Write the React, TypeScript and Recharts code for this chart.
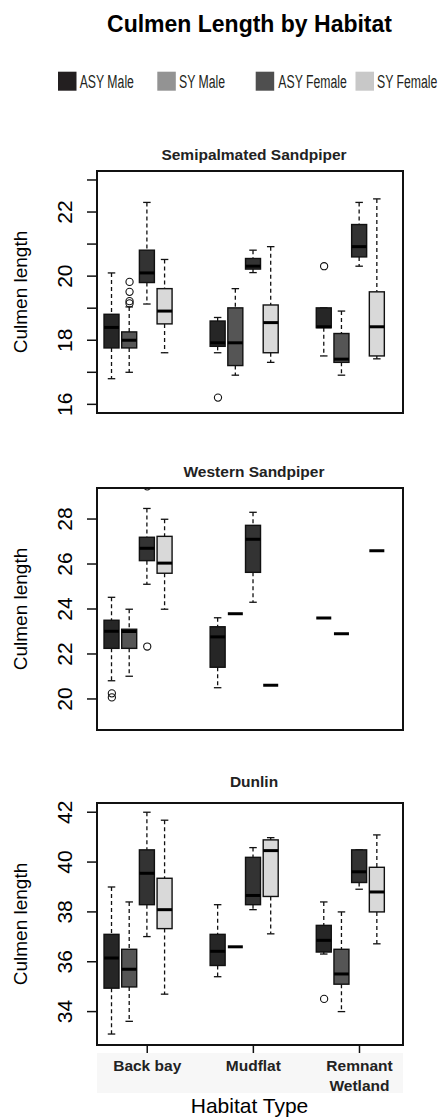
import React from "react";
import {
  ComposedChart,
  Bar,
  Scatter,
  XAxis,
  YAxis,
  ReferenceArea,
} from "recharts";

const habitats = ["Back bay", "Mudflat", "Remnant\nWetland"];
const ageSex = ["ASY Male", "SY Male", "ASY Female", "SY Female"];
const boxColors = ["#262626", "#555555", "#333333", "#d9d9d9"];
const legendColors = ["#231f20", "#939393", "#4f4f4f", "#c8c8c8"];

// [lower whisker, Q1, median, Q3, upper whisker]; [v] = one bird; null = none
// order: Back bay x4, Mudflat x4, Remnant Wetland x4 (ASY M, SY M, ASY F, SY F)
const semiStats = [
  [16.8, 17.76, 18.4, 18.81, 20.1],
  [17.0, 17.76, 18.0, 18.26, 19.04],
  [19.13, 19.8, 20.1, 20.81, 22.3],
  [17.61, 18.51, 18.91, 19.61, 20.52],
  [17.61, 17.81, 17.92, 18.6, 18.71],
  [16.91, 17.21, 17.92, 19.01, 19.61],
  [20.11, 20.22, 20.31, 20.55, 20.81],
  [17.31, 17.61, 18.55, 19.1, 20.92],
  [17.51, 18.39, 18.42, 19.01, 19.01],
  [16.91, 17.31, 17.41, 18.21, 18.91],
  [20.31, 20.6, 20.92, 21.61, 22.3],
  [17.42, 17.51, 18.42, 19.51, 22.41],
];
// [habitat, group, value]
const semiOutliers = [
  [0, 1, 19.15],
  [0, 1, 19.22],
  [0, 1, 19.51],
  [0, 1, 19.82],
  [1, 0, 16.21],
  [2, 0, 20.31],
];

const westernStats = [
  [20.81, 22.25, 23.01, 23.5, 24.52],
  [21.01, 22.25, 23.0, 23.1, 23.99],
  [25.1, 26.15, 26.7, 27.19, 28.47],
  [23.99, 25.59, 26.04, 27.23, 27.99],
  [20.5, 21.41, 22.76, 23.21, 23.61],
  [23.79],
  [24.3, 25.63, 27.1, 27.72, 28.3],
  [20.61],
  [23.6],
  [22.9],
  null,
  [26.59],
];
const westernOutliers = [
  [0, 0, 20.25],
  [0, 0, 20.07],
  [0, 2, 22.33],
  [0, 2, 29.45],
];

const dunlinStats = [
  [33.1, 34.94, 36.15, 37.1, 39.0],
  [33.61, 34.99, 35.7, 36.5, 38.4],
  [37.01, 38.29, 39.55, 40.49, 42.0],
  [34.7, 37.33, 38.09, 39.35, 41.68],
  [35.4, 35.85, 36.42, 37.1, 38.29],
  [36.6],
  [38.09, 38.29, 38.66, 40.19, 40.58],
  [37.12, 38.62, 40.46, 40.89, 40.98],
  [36.31, 36.39, 36.86, 37.46, 38.4],
  [34.0, 35.1, 35.51, 36.5, 38.0],
  [38.91, 39.18, 39.61, 40.49, 40.49],
  [36.72, 38.0, 38.8, 39.79, 41.09],
];
const dunlinOutliers = [[2, 0, 34.51]];

const semiTicks = [16, 17, 18, 19, 20, 21, 22, 23];
const westernTicks = [20, 22, 24, 26, 28];
const dunlinTicks = [34, 36, 38, 40, 42];

const FONT = "'Liberation Sans', Arial, Helvetica, sans-serif";
const X_DOMAIN: [number, number] = [0.16, 17.46];
const PLOT_H = 242;

const slotOf = (h: number, g: number) => h * 6 + g + 1;
const habitatTicks = habitats.map((_, h) => slotOf(h, 2));

const toBoxes = (stats: (number[] | null)[]) =>
  stats.flatMap((s, i) => {
    if (!s) return [];
    const v = s.length === 1 ? [s[0], s[0], s[0], s[0], s[0]] : s;
    return [
      {
        x: slotOf(Math.floor(i / 4), i % 4),
        group: i % 4,
        lo: v[0],
        q1: v[1],
        med: v[2],
        q3: v[3],
        hi: v[4],
      },
    ];
  });

const toPoints = (list: number[][]) =>
  list.map(([h, g, y]) => ({ x: slotOf(h, g), y }));

const BoxShape = (props: any) => {
  const { x, y, width, height, payload } = props;
  if (x == null || y == null || !payload) return null;
  const top = Math.min(y, y + (height || 0));
  const bottom = Math.max(y, y + (height || 0));
  const span = payload.hi - payload.lo;
  const py = (v: number) =>
    span > 0 ? bottom - ((v - payload.lo) / span) * (bottom - top) : top;
  const cx = x + width / 2;
  const cap = width / 4;
  const ink = "#111";
  return (
    <g>
      <line x1={cx} x2={cx} y1={py(payload.hi)} y2={py(payload.q3)} stroke={ink} strokeWidth={1.3} strokeDasharray="4 3" />
      <line x1={cx} x2={cx} y1={py(payload.q1)} y2={py(payload.lo)} stroke={ink} strokeWidth={1.3} strokeDasharray="4 3" />
      <line x1={cx - cap} x2={cx + cap} y1={py(payload.hi)} y2={py(payload.hi)} stroke={ink} strokeWidth={1.3} />
      <line x1={cx - cap} x2={cx + cap} y1={py(payload.lo)} y2={py(payload.lo)} stroke={ink} strokeWidth={1.3} />
      <rect
        x={x}
        y={py(payload.q3)}
        width={width}
        height={Math.max(0, py(payload.q1) - py(payload.q3))}
        fill={boxColors[payload.group]}
        stroke={ink}
        strokeWidth={1.4}
      />
      <line x1={x} x2={x + width} y1={py(payload.med)} y2={py(payload.med)} stroke="#000" strokeWidth={3} />
    </g>
  );
};

const Outlier = (props: any) => {
  const { cx, cy } = props;
  if (cx == null || cy == null) return null;
  return <circle cx={cx} cy={cy} r={3.6} fill="none" stroke="#111" strokeWidth={1.1} />;
};

const YTick = (props: any) => {
  const { y, payload } = props;
  const v = payload.value;
  if (v % 2 !== 0) return null;
  const bx = 72;
  return (
    <text
      x={bx}
      y={y}
      transform={`rotate(-90 ${bx} ${y})`}
      textAnchor="middle"
      fontFamily={FONT}
      fontSize={21}
      fill="#000"
    >
      {v}
    </text>
  );
};

const HabitatTick = (props: any) => {
  const { x, y, payload } = props;
  const idx = habitatTicks.indexOf(payload.value);
  if (idx < 0) return null;
  const lines = habitats[idx].split("\n");
  return (
    <text x={x} textAnchor="middle" fontFamily={FONT} fontWeight="bold" fontSize={15.5} fill="#222">
      {lines.map((ln, i) => (
        <tspan key={ln} x={x} y={y + 18 + i * 20}>
          {ln}
        </tspan>
      ))}
    </text>
  );
};

interface PanelProps {
  stats: (number[] | null)[];
  outliers: number[][];
  domain: [number, number];
  ticks: number[];
  plotTop: number;
  tickLen: number;
  bottomSpace: number;
  showHabitats?: boolean;
}

const Panel = ({ stats, outliers, domain, ticks, plotTop, tickLen, bottomSpace, showHabitats }: PanelProps) => {
  const boxes = toBoxes(stats);
  const points = toPoints(outliers);
  return (
    <div style={{ position: "absolute", left: 0, top: plotTop - 10 }}>
      <ComposedChart
        width={442}
        height={10 + PLOT_H + bottomSpace}
        data={boxes}
        margin={{ top: 10, right: 39, bottom: 0, left: 0 }}
      >
        <XAxis
          type="number"
          dataKey="x"
          domain={X_DOMAIN}
          ticks={habitatTicks}
          allowDataOverflow
          axisLine={false}
          tickSize={tickLen}
          tickMargin={0}
          tickLine={{ stroke: "#111", strokeWidth: 1.5 }}
          tick={showHabitats ? <HabitatTick /> : false}
          height={bottomSpace}
          interval={0}
        />
        <YAxis
          type="number"
          domain={domain}
          ticks={ticks}
          allowDataOverflow
          axisLine={false}
          tickSize={10}
          tickLine={{ stroke: "#111", strokeWidth: 1.5 }}
          tick={<YTick />}
          width={97}
          interval={0}
        />
        <ReferenceArea
          x1={X_DOMAIN[0]}
          x2={X_DOMAIN[1]}
          y1={domain[0]}
          y2={domain[1]}
          fill="none"
          stroke="#111"
          strokeWidth={2}
          ifOverflow="visible"
        />
        <Bar
          dataKey={(d: any) => [d.lo, d.hi]}
          barSize={15}
          shape={<BoxShape />}
          isAnimationActive={false}
        />
        <Scatter
          data={points}
          dataKey="y"
          shape={<Outlier />}
          isAnimationActive={false}
        />
      </ComposedChart>
    </div>
  );
};

const panelTitles = ["Semipalmated Sandpiper", "Western Sandpiper", "Dunlin"];
const plotTops = [171, 488, 803];
const titleBaselines = [160, 476.7, 786.7];
const legendSquareX = [58, 157.3, 255.7, 355.5];
const legendTextX = [79.7, 179, 278.3, 377];

export default function App() {
  return (
    <div
      style={{
        position: "absolute",
        left: 0,
        top: 0,
        width: 442,
        height: 1118,
        background: "#fff",
        overflow: "hidden",
      }}
    >
      <div
        style={{
          position: "absolute",
          left: 97,
          top: 1053,
          width: 306,
          height: 40,
          background: "#f7f7f7",
        }}
      />
      <Panel
        stats={semiStats}
        outliers={semiOutliers}
        domain={[15.73, 23.28]}
        ticks={semiTicks}
        plotTop={plotTops[0]}
        tickLen={4}
        bottomSpace={20}
      />
      <Panel
        stats={westernStats}
        outliers={westernOutliers}
        domain={[18.62, 29.38]}
        ticks={westernTicks}
        plotTop={plotTops[1]}
        tickLen={4}
        bottomSpace={20}
      />
      <Panel
        stats={dunlinStats}
        outliers={dunlinOutliers}
        domain={[32.66, 42.37]}
        ticks={dunlinTicks}
        plotTop={plotTops[2]}
        tickLen={8}
        bottomSpace={55}
        showHabitats
      />
      <svg
        width={442}
        height={1118}
        style={{ position: "absolute", left: 0, top: 0, pointerEvents: "none" }}
      >
        <text x={249.5} y={31.7} textAnchor="middle" fontFamily={FONT} fontWeight="bold" fontSize={23} fill="#000">
          Culmen Length by Habitat
        </text>
        {ageSex.map((name, i) => (
          <g key={name}>
            <rect x={legendSquareX[i]} y={71.7} width={18.5} height={19} fill={legendColors[i]} />
            <text
              x={0}
              y={0}
              transform={`translate(${legendTextX[i]} 88.3) scale(0.645 1)`}
              fontFamily={FONT}
              fontSize={19}
              fill="#231f20"
            >
              {name}
            </text>
          </g>
        ))}
        {panelTitles.map((t, i) => (
          <text key={t} x={254} y={titleBaselines[i]} textAnchor="middle" fontFamily={FONT} fontWeight="bold" fontSize={15.5} fill="#222">
            {t}
          </text>
        ))}
        {plotTops.map((pt) => {
          const cy = pt + PLOT_H / 2;
          return (
            <text key={pt} x={27} y={cy} transform={`rotate(-90 27 ${cy})`} textAnchor="middle" fontFamily={FONT} fontSize={19} fill="#000">
              Culmen length
            </text>
          );
        })}
        <text x={249.5} y={1112.7} textAnchor="middle" fontFamily={FONT} fontSize={21} fill="#000">
          Habitat Type
        </text>
      </svg>
    </div>
  );
}
